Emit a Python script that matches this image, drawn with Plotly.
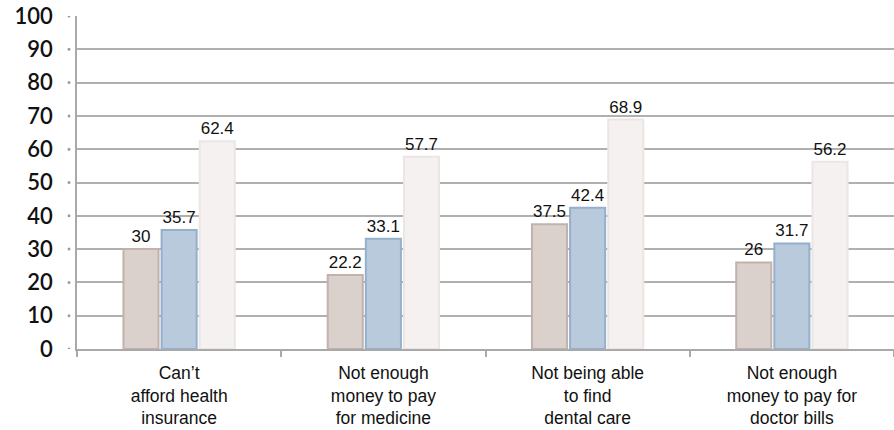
import plotly.graph_objects as go

# Survey categories (multi-line axis labels)
categories = [
    "Can’t<br>afford health<br>insurance",
    "Not enough<br>money to pay<br>for medicine",
    "Not being able<br>to find<br>dental care",
    "Not enough<br>money to pay for<br>doctor bills",
]

# Percentages for the three groups
series_a = [30, 22.2, 37.5, 26]
series_b = [35.7, 33.1, 42.4, 31.7]
series_c = [62.4, 57.7, 68.9, 56.2]

y_ticks = [0, 10, 20, 30, 40, 50, 60, 70, 80, 90, 100]

# Fill / edge colours give the bars a soft bevelled look
styles = [
    ("#dad0cc", "#c3b2ac"),
    ("#b9cadd", "#94b0cc"),
    ("#f4f1f0", "#ebe6e4"),
]

fig = go.Figure()
for vals, (fill, edge) in zip([series_a, series_b, series_c], styles):
    fig.add_trace(go.Bar(
        x=categories,
        y=vals,
        marker=dict(color=fill, line=dict(color=edge, width=2)),
        text=[f"{v:g}" for v in vals],
        textposition="outside",
        textfont=dict(family="Liberation Sans, Arial, sans-serif", size=17, color="#111111"),
        cliponaxis=False,
        showlegend=False,
    ))

# Small round tick markers to the left of the value axis
for t in y_ticks:
    fig.add_shape(
        type="circle", xref="paper", yref="y",
        x0=-0.0115, x1=-0.0080, y0=t - 0.45, y1=t + 0.45,
        line=dict(width=0), fillcolor="#9a9a9a",
    )

fig.update_layout(
    width=894, height=430,
    margin=dict(l=77, r=0, t=16, b=81),
    paper_bgcolor="white",
    plot_bgcolor="white",
    barmode="group",
    bargap=0.44,
    bargroupgap=0.08,
    font=dict(family="Liberation Sans, Arial, sans-serif", color="#111111"),
)

fig.update_xaxes(
    type="category",
    showgrid=False,
    showline=True, linecolor="#a9a9a9", linewidth=1.5,
    ticks="outside", tickson="boundaries", ticklen=6,
    tickcolor="#a9a9a9", tickwidth=1.5,
    tickfont=dict(family="Liberation Sans, Arial, sans-serif", size=17.5, color="#111111"),
    ticklabelstandoff=7,
)

fig.update_yaxes(
    range=[0, 100],
    tickvals=y_ticks,
    ticktext=[str(t) for t in y_ticks],
    showgrid=True, gridcolor="#b0b0b0", gridwidth=1.5,
    showline=True, linecolor="#a9a9a9", linewidth=1.5,
    zeroline=False,
    ticks="",
    ticklabelstandoff=18,
    tickfont=dict(family="Lato, sans-serif", size=22, color="#111111", weight=600),
)

fig.write_html("out.html")
